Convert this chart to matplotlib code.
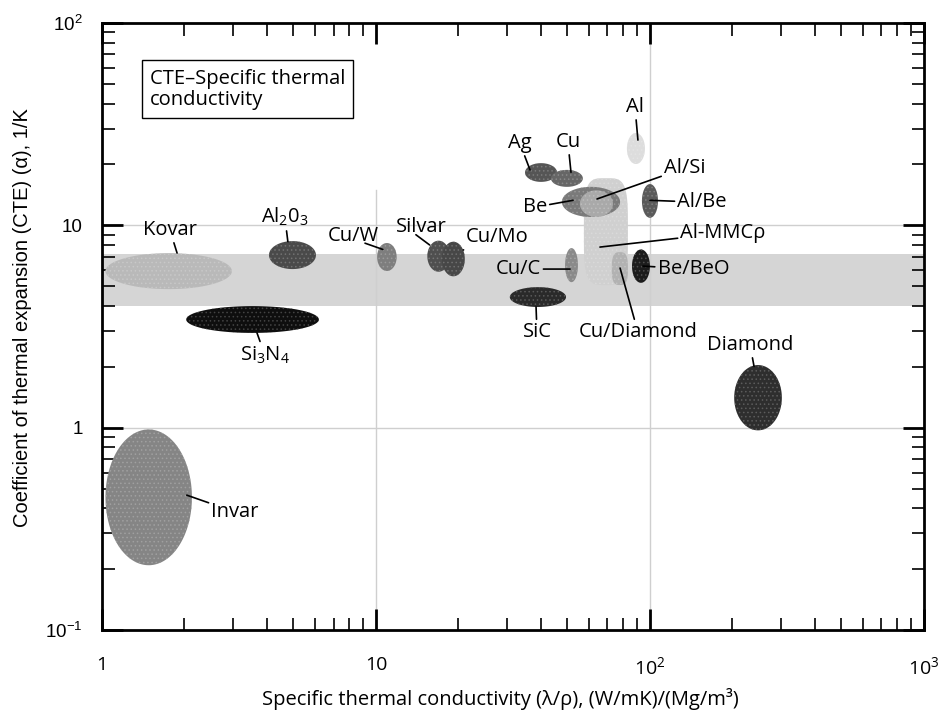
import numpy as np
import matplotlib
matplotlib.use('Agg')
import matplotlib.pyplot as plt
from matplotlib.colors import to_rgb
from matplotlib.ticker import FixedLocator, FixedFormatter, LogLocator, NullFormatter

plt.rcParams['font.family'] = ['Open Sans', 'DejaVu Sans']
plt.rcParams['mathtext.fontset'] = 'custom'
plt.rcParams['mathtext.rm'] = 'Open Sans'
plt.rcParams['mathtext.it'] = 'Open Sans:italic'
plt.rcParams['mathtext.default'] = 'regular'
plt.rcParams['hatch.linewidth'] = 0.6

# property ranges: specific thermal conductivity (x) and CTE (y), drawn back to front
materials = ['Al-MMCp', 'Cu/Diamond', 'Kovar', 'Si3N4', 'Al2O3', 'Cu/W', 'Silvar', 'Cu/Mo',
             'Ag', 'Cu', 'Al', 'Be', 'Al/Si', 'Cu/C', 'SiC', 'Al/Be', 'Be/BeO', 'Diamond', 'Invar']
x_lo = [57.4, 72.6, 1.03, 2.03, 4.07, 10.1, 15.4, 17.4, 35.0, 43.5, 82.4, 47.7, 55.5, 49.0, 30.8, 93.5, 86.0, 203, 1.03]
x_hi = [83.1, 83.1, 2.98, 6.19, 6.04, 11.9, 18.6, 21.1, 45.8, 56.9, 95.9, 77.8, 73.3, 54.6, 49.4, 107, 100, 303, 2.13]
y_lo = [5.07, 5.07, 4.84, 2.94, 6.08, 5.95, 5.9, 5.6, 16.4, 15.5, 20.1, 11.0, 11.0, 5.24, 3.95, 10.9, 5.2, 0.97, 0.209]
y_hi = [17.1, 7.37, 7.29, 3.99, 8.36, 8.18, 8.4, 8.3, 20.3, 18.8, 28.6, 15.5, 14.9, 7.72, 4.95, 16.0, 7.6, 2.04, 0.98]

# design window for CTE (shaded band)
band_lo, band_hi = 4.0, 7.2

x_ticks = [1, 10, 100, 1000]
x_ticklabels = ['1', '10', '$10^{2}$', '$10^{3}$']
y_ticks = [0.1, 1, 10, 100]
y_ticklabels = ['$10^{-1}$', '1', '10', '$10^{2}$']

shade = {
    'Al-MMCp': '#d0d0d0', 'Cu/Diamond': '#b2b2b2', 'Kovar': '#b9b9b9', 'Si3N4': '#0e0e0e',
    'Al2O3': '#4a4a4a', 'Cu/W': '#7e7e7e', 'Silvar': '#4f4f4f', 'Cu/Mo': '#474747',
    'Ag': '#555555', 'Cu': '#666666', 'Al': '#dddddd', 'Be': '#7a7a7a', 'Al/Si': '#a9a9a9',
    'Cu/C': '#8a8a8a', 'SiC': '#2a2a2a', 'Al/Be': '#5a5a5a', 'Be/BeO': '#1c1c1c',
    'Diamond': '#2e2e2e', 'Invar': '#858585',
}
rounded = {'Al-MMCp': 4.0, 'Cu/Diamond': 3.0}

# label text, label position, leader end
labels = [
    ('Kovar', (1.77, 9.48), (1.88, 7.3)),
    ('Al$_2$0$_3$', (4.65, 11.0), (4.77, 8.3)),
    ('Cu/W', (8.3, 8.9), (10.6, 7.6)),
    ('Silvar', (14.6, 9.8), (15.7, 8.0)),
    ('Cu/Mo', (27.7, 8.75), (20.8, 7.55)),
    ('Ag', (33.5, 25.5), (36.5, 18.8)),
    ('Cu', (50.2, 25.8), (51.5, 18.3)),
    ('Al', (88.2, 38.4), (90.4, 26.4)),
    ('Al/Si', (134, 19.2), (64.1, 13.5)),
    ('Be', (38.0, 12.3), (52.4, 13.3)),
    ('Al/Be', (155, 13.0), (100, 13.3)),
    ('Al-MMC\u03c1', (185, 9.16), (65.7, 7.81)),
    ('Cu/C', (33.0, 6.08), (51.1, 6.08)),
    ('Be/BeO', (144, 6.08), (94.3, 6.29)),
    ('SiC', (38.7, 2.97), (38.4, 3.95)),
    ('Cu/Diamond', (90.4, 2.97), (77.8, 6.15)),
    ('Diamond', (232, 2.56), (240, 2.0)),
    ('Si$_3$N$_4$', (3.93, 2.29), (3.68, 2.94)),
    ('Invar', (3.06, 0.383), (2.04, 0.464)),
]
# leaders that start under the text rather than at its edge
leader_start = {'Cu/W': (0.72, 0.12), 'Silvar': (0.4, 0.12)}

fig = plt.figure(figsize=(9.38, 7.13), dpi=100)
ax = fig.add_axes([0.1087, 0.1164, 0.8763, 0.8513])
ax.set_xscale('log')
ax.set_yscale('log')
ax.set_xlim(1, 1000)
ax.set_ylim(0.1, 100)

ax.axhspan(band_lo, band_hi, color='#d5d5d5', lw=0, zorder=0)
grid_kw = dict(color='#cfcfcf', lw=1.0, zorder=0.5)
ax.axhline(1, **grid_kw)
ax.axhline(10, **grid_kw)
ax.axvline(100, **grid_kw)
ax.plot([10, 10], [0.1, 15], **grid_kw)

t = np.linspace(0, 2 * np.pi, 240)
for name, x0, x1, y0, y1 in zip(materials, x_lo, x_hi, y_lo, y_hi):
    cx, rx = (np.log10(x0) + np.log10(x1)) / 2, (np.log10(x1) - np.log10(x0)) / 2
    cy, ry = (np.log10(y0) + np.log10(y1)) / 2, (np.log10(y1) - np.log10(y0)) / 2
    n = rounded.get(name, 2.0)
    c, s = np.cos(t), np.sin(t)
    ex = np.sign(c) * np.abs(c) ** (2 / n)
    ey = np.sign(s) * np.abs(s) ** (2 / n)
    fc = np.array(to_rgb(shade[name]))
    dots = fc + (1 - fc) * 0.22
    ax.fill(10 ** (cx + rx * ex), 10 ** (cy + ry * ey), facecolor=fc, edgecolor=dots,
            hatch='....', lw=0, zorder=2)

for text, txy, pxy in labels:
    arrow = dict(arrowstyle='-', lw=1.2, color='black', shrinkA=0, shrinkB=0)
    key = text
    if key in leader_start:
        arrow['relpos'] = leader_start[key]
        arrow['patchA'] = None
    ax.annotate(text, xy=pxy, xytext=txy, ha='center', va='center', fontsize=14.5, zorder=4,
                arrowprops=arrow)

ax.text(0.058, 0.925, 'CTE\u2013Specific thermal\nconductivity', transform=ax.transAxes,
        ha='left', va='top', fontsize=14.5, linespacing=1.1, zorder=5,
        bbox=dict(boxstyle='square,pad=0.4', fc='white', ec='black', lw=1.0))

ax.xaxis.set_major_locator(FixedLocator(x_ticks))
ax.xaxis.set_major_formatter(FixedFormatter(x_ticklabels))
ax.yaxis.set_major_locator(FixedLocator(y_ticks))
ax.yaxis.set_major_formatter(FixedFormatter(y_ticklabels))
ax.xaxis.set_minor_locator(LogLocator(base=10, subs=np.arange(2, 10)))
ax.yaxis.set_minor_locator(LogLocator(base=10, subs=np.arange(2, 10)))
ax.xaxis.set_minor_formatter(NullFormatter())
ax.yaxis.set_minor_formatter(NullFormatter())

ax.tick_params(which='both', direction='in', top=True, right=True)
ax.tick_params(which='major', length=15, width=2.0)
ax.tick_params(which='minor', length=9, width=1.2)
ax.tick_params(axis='x', which='major', pad=19, labelsize=14)
ax.tick_params(axis='y', which='major', pad=14, labelsize=13.5)
for lab in ax.get_yticklabels():
    lab.set_family(['Liberation Sans', 'DejaVu Sans'])
for sp in ax.spines.values():
    sp.set_linewidth(2.0)

ax.set_xlabel('Specific thermal conductivity (\u03bb/\u03c1), (W/mK)/(Mg/m\u00b3)', fontsize=14.5)
ax.xaxis.label.set_va('center')
ax.xaxis.set_label_coords(0.485, -0.113)
ax.set_ylabel('Coefficient of thermal expansion (CTE) (\u03b1), 1/K', fontsize=14.5,
              family=['Liberation Sans', 'DejaVu Sans'])
ax.yaxis.label.set_va('center')
ax.yaxis.set_label_coords(-0.097, 0.514)

fig.savefig('out.png', dpi=100)
